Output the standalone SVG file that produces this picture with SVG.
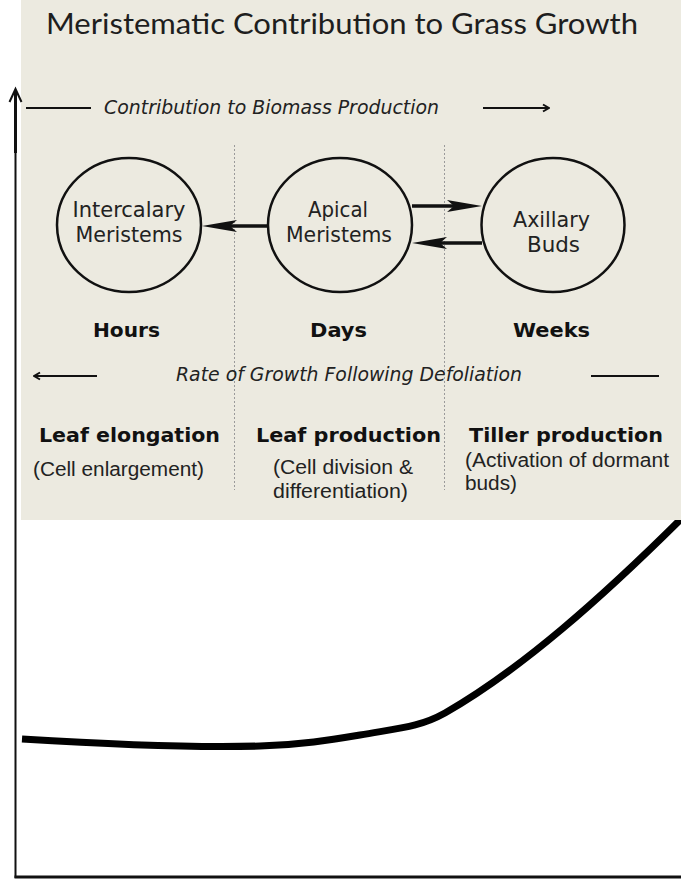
<svg xmlns="http://www.w3.org/2000/svg" width="681" height="879" viewBox="0 0 681 879">
<defs>
<style>
.title{font-family:Lato,"Open Sans",sans-serif;font-size:28px;fill:#1e1e1e}
.ital{font-family:"DejaVu Sans",sans-serif;font-style:italic;font-size:19.5px;fill:#222}
.node{fill:none;stroke:#111;stroke-width:2.5}
.ntext{font-family:"DejaVu Sans",sans-serif;font-size:21px;fill:#222;text-anchor:middle}
.time{font-family:"DejaVu Sans",sans-serif;font-weight:bold;font-size:20px;fill:#111;text-anchor:middle}
.proc{font-family:"DejaVu Sans",sans-serif;font-weight:bold;font-size:20px;fill:#111}
.sub{font-family:"Liberation Sans",Arial,sans-serif;font-size:20px;fill:#222}
.div{stroke:#9a9a9a;stroke-width:1;stroke-dasharray:2 2}
.thin{stroke:#111;stroke-width:2;fill:none}
.conn{stroke:#111;stroke-width:3.5;fill:none}
.axis{stroke:#111;fill:none}
</style>
<marker id="head" markerUnits="userSpaceOnUse" markerWidth="36" markerHeight="14" viewBox="0 0 36 14" refX="10" refY="7" orient="auto"><path d="M0,1 L35,7 L0,13 L7,7 Z" fill="#111"/></marker>
<marker id="chev" markerUnits="userSpaceOnUse" markerWidth="10" markerHeight="10" viewBox="0 0 10 10" refX="9" refY="5" orient="auto"><path d="M3,1.5 L9,5 L3,8.5" fill="none" stroke="#111" stroke-width="2"/></marker>
</defs>
<rect width="681" height="879" fill="#fff"/>
<g id="curve"><path d="M22,739 C120,745 200,748 260,746 C300,745 330,740 360,735 C400,728 420,727 445,713 C520,670 600,600 690,510" fill="none" stroke="#000" stroke-width="7"/></g>
<rect id="panel" x="21" y="0" width="660" height="520" fill="#ECEAE0"/>
<g id="axes">
<path class="axis" d="M15.5,90 V153" stroke-width="3"/>
<path class="axis" d="M15.5,153 V878" stroke-width="2"/>
<path class="axis" d="M9.5,102 L15.5,89 L21.5,102" stroke-width="2"/>
<path class="axis" d="M14.5,877 H681" stroke-width="3"/>
</g>
<text class="title" x="46" y="34" textLength="592" lengthAdjust="spacingAndGlyphs">Meristematic Contribution to Grass Growth</text>
<g id="dividers">
<line class="div" x1="234.5" y1="145" x2="234.5" y2="490"/>
<line class="div" x1="444.5" y1="145" x2="444.5" y2="490"/>
</g>
<g id="biomass-label">
<line class="thin" x1="26" y1="108" x2="91" y2="108"/>
<text class="ital" x="104" y="114" textLength="335" lengthAdjust="spacingAndGlyphs">Contribution to Biomass Production</text>
<line class="thin" x1="483" y1="108" x2="549" y2="108" marker-end="url(#chev)"/>
</g>
<g id="intercalary">
<ellipse class="node" cx="129" cy="225" rx="72" ry="67"/>
<text class="ntext" x="129" y="217" textLength="113" lengthAdjust="spacingAndGlyphs">Intercalary</text>
<text class="ntext" x="129" y="242" textLength="107" lengthAdjust="spacingAndGlyphs">Meristems</text>
</g>
<g id="apical">
<ellipse class="node" cx="340" cy="225" rx="72" ry="67"/>
<text class="ntext" x="338" y="217" textLength="60" lengthAdjust="spacingAndGlyphs">Apical</text>
<text class="ntext" x="339" y="242" textLength="106" lengthAdjust="spacingAndGlyphs">Meristems</text>
</g>
<g id="axillary">
<ellipse class="node" cx="553" cy="225" rx="71.5" ry="67"/>
<text class="ntext" x="551.5" y="227" textLength="77" lengthAdjust="spacingAndGlyphs">Axillary</text>
<text class="ntext" x="553.5" y="252" textLength="53" lengthAdjust="spacingAndGlyphs">Buds</text>
</g>
<g id="connectors">
<line class="conn" x1="268" y1="226" x2="227" y2="226" marker-end="url(#head)"/>
<line class="conn" x1="412" y1="206" x2="457" y2="206" marker-end="url(#head)"/>
<line class="conn" x1="482" y1="243" x2="437" y2="243" marker-end="url(#head)"/>
</g>
<g id="timescales">
<text class="time" x="126.5" y="337" textLength="67" lengthAdjust="spacingAndGlyphs">Hours</text>
<text class="time" x="338.5" y="337" textLength="57" lengthAdjust="spacingAndGlyphs">Days</text>
<text class="time" x="551.5" y="337" textLength="77" lengthAdjust="spacingAndGlyphs">Weeks</text>
</g>
<g id="rate-label">
<line class="thin" x1="97" y1="376" x2="34" y2="376" marker-end="url(#chev)"/>
<text class="ital" x="176" y="381" textLength="346" lengthAdjust="spacingAndGlyphs">Rate of Growth Following Defoliation</text>
<line class="thin" x1="591" y1="376" x2="659" y2="376"/>
</g>
<g id="leaf-elongation">
<text class="proc" x="39" y="442" textLength="181" lengthAdjust="spacingAndGlyphs">Leaf elongation</text>
<text class="sub" x="33" y="476" textLength="171" lengthAdjust="spacingAndGlyphs">(Cell enlargement)</text>
</g>
<g id="leaf-production">
<text class="proc" x="256" y="442" textLength="185" lengthAdjust="spacingAndGlyphs">Leaf production</text>
<text class="sub" x="273" y="474" textLength="140" lengthAdjust="spacingAndGlyphs">(Cell division &amp;</text>
<text class="sub" x="273" y="498" textLength="135" lengthAdjust="spacingAndGlyphs">differentiation)</text>
</g>
<g id="tiller-production">
<text class="proc" x="469" y="442" textLength="194" lengthAdjust="spacingAndGlyphs">Tiller production</text>
<text class="sub" x="465" y="467" textLength="204" lengthAdjust="spacingAndGlyphs">(Activation of dormant</text>
<text class="sub" x="465" y="490" textLength="52" lengthAdjust="spacingAndGlyphs">buds)</text>
</g>
</svg>
